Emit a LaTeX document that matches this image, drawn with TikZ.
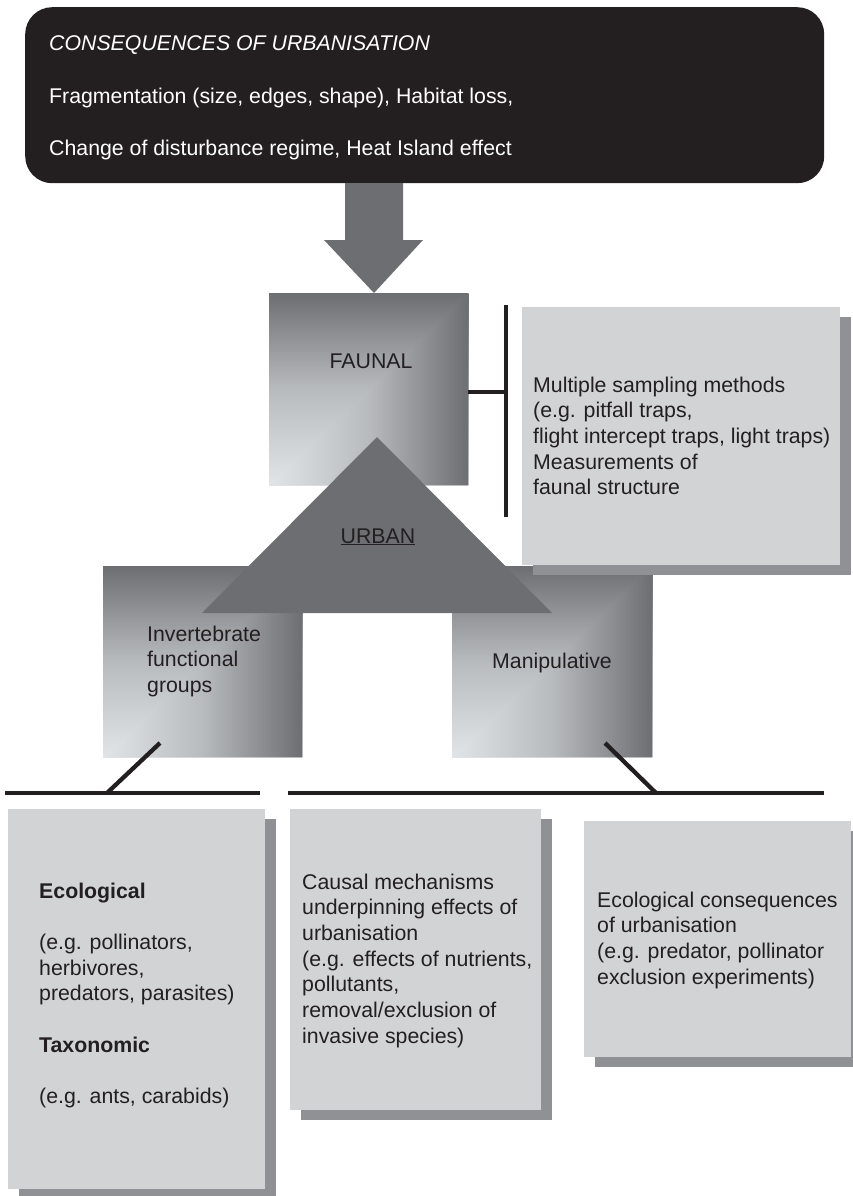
\documentclass[tikz,border=0pt]{standalone}
\usepackage{fontspec}
\setmainfont{Liberation Sans}
\usetikzlibrary{shadows,calc}

\definecolor{inkdark}{HTML}{231F20}
\definecolor{slate}{HTML}{6D6E71}
\definecolor{panel}{HTML}{D1D3D4}
\definecolor{panelshadow}{HTML}{909194}
\definecolor{fadelight}{HTML}{E2E5E8}
\definecolor{fademid}{HTML}{B8BBBE}

\tikzset{
  % multi-line text: the base anchor sits on the baseline of the last line
  txt/.style={anchor=base west, inner sep=0pt, align=left, text=inkdark,
    font=\fontsize{21.3}{25.7}\selectfont},
  whitetxt/.style={txt, text=white},
  panelbox/.style={anchor=north west, inner sep=0pt, fill=panel, draw=none,
    drop shadow={shadow xshift=11pt, shadow yshift=-10pt, fill=panelshadow, opacity=1}},
  fadebox/.style={anchor=north west, inner sep=0pt, draw=none},
  bar/.style={draw=inkdark, line width=4.3pt},
}

% rectangular "from corner" fade: light at the lower left, dark at top and right
\newcommand\cornerfade[1]{%
  \shade[top color=slate, bottom color=fadelight, middle color=fademid]
    (#1.south west) rectangle (#1.north east);
  \shade[left color=fadelight, right color=slate, middle color=fademid]
    (#1.south west) -- (#1.south east) -- (#1.north east) -- cycle;}

\begin{document}
\begin{tikzpicture}[x=1pt, y=-1pt]
\useasboundingbox (0,0) rectangle (853,1196);

% heading panel
\node[anchor=north west, inner sep=0pt, fill=inkdark, rounded corners=27pt,
      minimum width=799pt, minimum height=176pt] (cons) at (25,7) {};
\node[whitetxt, font=\fontsize{21.3}{25.7}\selectfont\itshape] (consT) at (49,51) {CONSEQUENCES OF URBANISATION};
\node[whitetxt] (consA) at (49,104) {Fragmentation (size, edges, shape), Habitat loss,};
\node[whitetxt] (consB) at (49,155) {Change of disturbance regime, Heat Island effect};

% block arrow down to the faunal block
\coordinate (arrowbase) at (374,183);
\coordinate (arrowtip) at (374,293);
\fill[slate] ($(arrowbase)+(-29,0)$) -- ++(0,57) -- ++(-21,0) -- (arrowtip)
  -- ($(arrowbase)+(49,57)$) -- ++(-20,0) -- ($(arrowbase)+(29,0)$) -- cycle;

% faded blocks
\node[fadebox, minimum width=199pt, minimum height=192pt] (faunal) at (269,293) {};
\cornerfade{faunal}
\node[fadebox, minimum width=199pt, minimum height=191pt] (invert) at (103,566) {};
\cornerfade{invert}
\node[fadebox, minimum width=200pt, minimum height=191pt] (manip) at (452,566) {};
\cornerfade{manip}

\node[anchor=base, inner sep=0pt, text=inkdark, font=\fontsize{21.3}{25.7}\selectfont] (faunalT) at (371,368) {FAUNAL};
\node[txt] (invertT) at (147,692.4) {Invertebrate\\functional\\groups};
\node[txt] (manipT) at (492,668) {Manipulative};

% sampling panel and its bracket
\node[panelbox, minimum width=318pt, minimum height=258pt] (sampling) at (522,307) {};
\node[txt] (samplingT) at (533,494.8) {Multiple sampling methods\\(e.g. pitfall traps,\\flight intercept traps, light traps)\\Measurements of\\faunal structure};
\coordinate (spineTop) at (506,305);
\coordinate (spineBot) at (506,517);
\coordinate (spineMid) at (506,392);
\draw[bar] (spineTop) -- (spineBot);
\draw[bar] (faunal.east |- spineMid) -- (spineMid);

% urban triangle
\coordinate (apex) at (377,437);
\fill[slate] (apex) -- (552,613) -- (202,613) -- cycle;
\node[anchor=base, inner sep=0pt, text=inkdark, font=\fontsize{21.3}{25.7}\selectfont] (urbanT) at (378,543) {\underline{URBAN}};

% bars leading to the lower panels
\coordinate (leftBarA) at (5,793);
\coordinate (leftBarB) at (260,793);
\coordinate (rightBarA) at (288,793);
\coordinate (rightBarB) at (824,793);
\coordinate (invertFoot) at (160,743);
\coordinate (leftJoin) at (107,793);
\coordinate (manipFoot) at (605,743);
\coordinate (rightJoin) at (656,793);
\draw[bar] (leftBarA) -- (leftBarB);
\draw[bar] (rightBarA) -- (rightBarB);
\draw[bar] (invertFoot) -- (leftJoin);
\draw[bar] (manipFoot) -- (rightJoin);

% lower panels
\node[panelbox, minimum width=257pt, minimum height=380pt] (groups) at (8,809) {};
\node[panelbox, minimum width=251pt, minimum height=301pt] (causal) at (290,809) {};
\node[panelbox, minimum width=267pt, minimum height=236pt] (conseq) at (584,821) {};

\node[txt] (groupsT) at (39,1103.6) {\textbf{Ecological}\\[25.7pt](e.g. pollinators,\\herbivores,\\predators, parasites)\\[25.7pt]\textbf{Taxonomic}\\[25.7pt](e.g. ants, carabids)};
\node[txt] (causalT) at (302,1043.2) {Causal mechanisms\\underpinning effects of\\urbanisation\\(e.g. effects of nutrients,\\pollutants,\\removal/exclusion of\\invasive species)};
\node[txt] (conseqT) at (597,984.1) {Ecological consequences\\of urbanisation\\(e.g. predator, pollinator\\exclusion experiments)};
\end{tikzpicture}
\end{document}
